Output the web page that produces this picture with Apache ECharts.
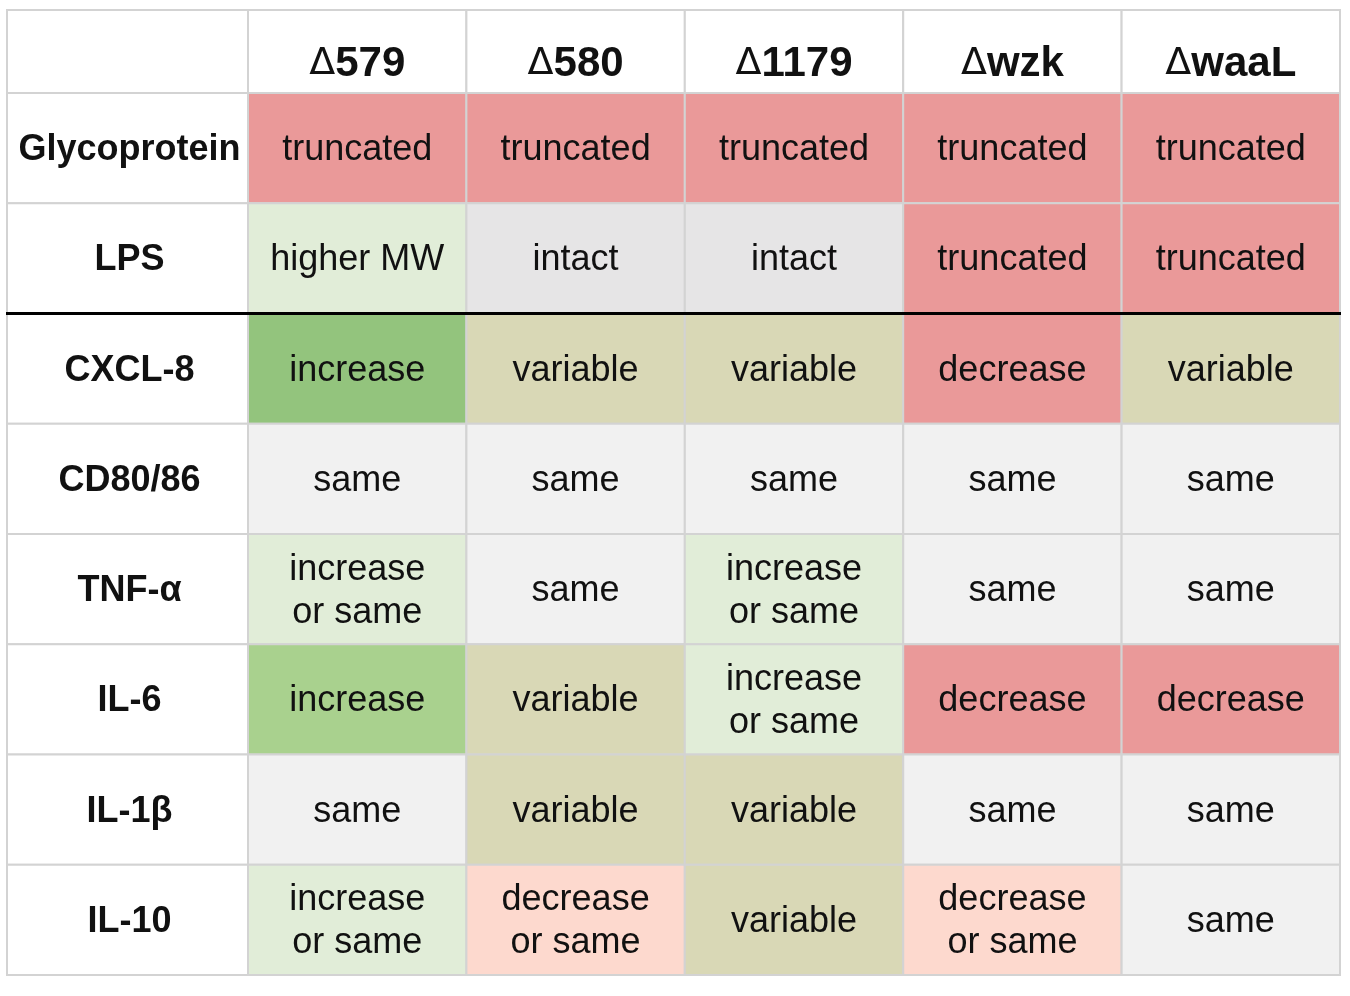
<!DOCTYPE html>
<html>
<head>
<meta charset="utf-8">
<title>Mutant phenotypes</title>
<script src="https://cdn.jsdelivr.net/npm/echarts@6.0.0/dist/echarts.min.js"></script>
<style>
  html, body { margin: 0; padding: 0; background: #fff; }
  #main { width: 1350px; height: 996px; }
</style>
</head>
<body>
<div id="main"></div>
<script>
// column headers (strains) and row headers (readouts)
var strains = ['Δ579', 'Δ580', 'Δ1179', 'Δwzk', 'ΔwaaL'];
var features = ['Glycoprotein', 'LPS', 'CXCL-8', 'CD80/86', 'TNF-α', 'IL-6', 'IL-1β', 'IL-10'];

// one array per row, in strain order
var glycoprotein = ['truncated', 'truncated', 'truncated', 'truncated', 'truncated'];
var lps = ['higher MW', 'intact', 'intact', 'truncated', 'truncated'];
var cxcl8 = ['increase', 'variable', 'variable', 'decrease', 'variable'];
var cd8086 = ['same', 'same', 'same', 'same', 'same'];
var tnfa = ['increase or same', 'same', 'increase or same', 'same', 'same'];
var il6 = ['increase', 'variable', 'increase or same', 'decrease', 'decrease'];
var il1b = ['same', 'variable', 'variable', 'same', 'same'];
var il10 = ['increase or same', 'decrease or same', 'variable', 'decrease or same', 'same'];

var rows = [glycoprotein, lps, cxcl8, cd8086, tnfa, il6, il1b, il10];

// the thick rule sits above this row
var dividerBefore = 'CXCL-8';

// cell fills
var fills = {
  'truncated': '#ea9999',
  'decrease': '#ea9999',
  'higher MW': '#e1edd8',
  'increase or same': '#e1edd8',
  'intact': '#e6e5e6',
  'same': '#f1f1f1',
  'variable': '#d9d8b6',
  'increase': '#93c47d',
  'decrease or same': '#fdd9ce'
};
// IL-6 "increase" is a lighter green in the original
var fillOverrides = { 'IL-6|increase': '#a9d18e' };

var BORDER = '#d3d3d3';
var FONT = '"Liberation Sans", Arial, Helvetica, sans-serif';

var chart = echarts.init(document.getElementById('main'), null, { renderer: 'canvas' });

function cellRenderer(textOf, fillOf, textStyle, offset, withDivider) {
  return function (params, api) {
    var xi = api.value(0), yi = api.value(1);
    var c = api.coord([xi, yi]);
    var s = api.size([1, 1]);
    var x0 = c[0] - s[0] / 2, y0 = c[1] - s[1] / 2;
    var children = [{
      type: 'rect',
      shape: { x: x0, y: y0, width: s[0], height: s[1] },
      style: { fill: fillOf(xi, yi), stroke: BORDER, lineWidth: 2 },
      textContent: { style: Object.assign({ text: textOf(xi, yi) }, textStyle) },
      textConfig: { position: 'inside', offset: offset || [0, 0] }
    }];
    if (withDivider && features[yi] === dividerBefore) {
      children.push({
        type: 'line',
        z2: 20,
        shape: { x1: x0 - 1, y1: y0, x2: x0 + s[0] + 1, y2: y0 },
        style: { stroke: '#000', lineWidth: 3 }
      });
    }
    return { type: 'group', children: children };
  };
}

var bodyData = [];
rows.forEach(function (row, r) {
  row.forEach(function (v, c) { bodyData.push([c, r]); });
});

var cellText = {
  fontFamily: FONT, fontSize: 36, fill: '#111', lineHeight: 43,
  align: 'center', verticalAlign: 'middle'
};
var rowLabelText = {
  fontFamily: FONT, fontSize: 36, fontWeight: 'bold', fill: '#111',
  align: 'center', verticalAlign: 'middle'
};
var headText = {
  fontFamily: FONT, fontSize: 42, fill: '#111',
  align: 'center', verticalAlign: 'middle',
  rich: {
    d: { fontFamily: '"DejaVu Sans", ' + FONT, fontSize: 38, fontWeight: 400, fill: '#111' },
    b: { fontFamily: FONT, fontSize: 42, fontWeight: 'bold', fill: '#111' }
  }
};

var hiddenCat = function (data, idx, inverse) {
  return { type: 'category', gridIndex: idx, data: data, show: false, inverse: !!inverse };
};

chart.setOption({
  backgroundColor: '#fff',
  animation: false,
  grid: [
    { left: 248, top: 93, width: 1092, height: 882 },   // body
    { left: 7, top: 93, width: 241, height: 882 },      // row labels
    { left: 248, top: 10, width: 1092, height: 83 },    // column headers
    { left: 7, top: 10, width: 241, height: 83 }        // empty corner
  ],
  xAxis: [
    hiddenCat(strains, 0),
    hiddenCat([''], 1),
    hiddenCat(strains, 2),
    hiddenCat([''], 3)
  ],
  yAxis: [
    hiddenCat(features, 0, true),
    hiddenCat(features, 1, true),
    hiddenCat([''], 2),
    hiddenCat([''], 3)
  ],
  series: [
    {
      type: 'custom', xAxisIndex: 0, yAxisIndex: 0,
      data: bodyData,
      renderItem: cellRenderer(
        function (c, r) { return rows[r][c].replace(' or ', '\nor '); },
        function (c, r) {
          var key = features[r] + '|' + rows[r][c];
          return fillOverrides[key] || fills[rows[r][c]];
        },
        cellText, [0, 2], true)
    },
    {
      type: 'custom', xAxisIndex: 1, yAxisIndex: 1,
      data: features.map(function (f, r) { return [0, r]; }),
      renderItem: cellRenderer(
        function (c, r) { return features[r]; },
        function () { return '#fff'; },
        rowLabelText, [2, 2], true)
    },
    {
      type: 'custom', xAxisIndex: 2, yAxisIndex: 2,
      data: strains.map(function (s, c) { return [c, 0]; }),
      renderItem: cellRenderer(
        function (c) { return '{d|' + strains[c].charAt(0) + '}{b|' + strains[c].slice(1) + '}'; },
        function () { return '#fff'; },
        headText, [0, 13], false)
    },
    {
      type: 'custom', xAxisIndex: 3, yAxisIndex: 3,
      data: [[0, 0]],
      renderItem: cellRenderer(
        function () { return ''; },
        function () { return '#fff'; },
        cellText, [0, 0], false)
    }
  ]
});
</script>
</body>
</html>
